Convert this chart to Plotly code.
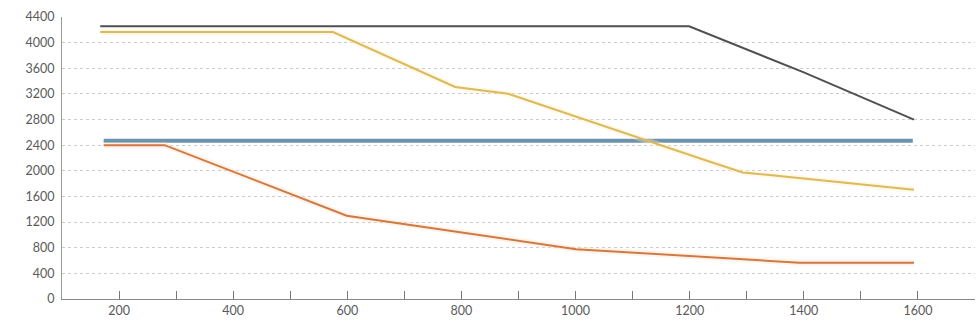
import plotly.graph_objects as go

# ---- data ----
dark_x = [167, 1199, 1400, 1593]
dark_y = [4255, 4255, 3535, 2800]

yellow_x = [167, 575, 789, 882, 1229, 1293, 1593]
yellow_y = [4165, 4165, 3308, 3203, 2160, 1975, 1705]

blue_x = [173, 1591]
blue_y = [2468, 2468]

orange_x = [173, 280, 599, 1001, 1392, 1593]
orange_y = [2400, 2400, 1300, 778, 567, 565]

x_tickvals = list(range(100, 1701, 100))
x_ticktext = [str(v) if v % 200 == 0 else "" for v in x_tickvals]
y_tickvals = list(range(0, 4401, 400))

fig = go.Figure()

def add_line(x, y, color, width, glow=None):
    if glow:
        fig.add_trace(go.Scatter(x=x, y=y, mode="lines",
                                 line=dict(color=glow, width=width + 4),
                                 hoverinfo="skip", showlegend=False))
    fig.add_trace(go.Scatter(x=x, y=y, mode="lines",
                             line=dict(color=color, width=width),
                             showlegend=False))

add_line(dark_x, dark_y, "#505050", 2)
add_line(blue_x, blue_y, "#6b93ab", 4)
add_line(yellow_x, yellow_y, "#dcb85e", 2, glow="rgba(255,240,190,0.35)")
add_line(orange_x, orange_y, "#cf7a46", 2, glow="rgba(255,220,190,0.35)")

fig.update_layout(
    width=978, height=321,
    margin=dict(l=62, r=3, t=17, b=22),
    paper_bgcolor="white", plot_bgcolor="white",
    font=dict(family="Lato, sans-serif", size=12.5, color="#5a5a5a"),
    xaxis=dict(range=[100, 1700], tickvals=x_tickvals, ticktext=x_ticktext,
               ticks="inside", ticklen=8, tickcolor="#777777", tickwidth=1,
               showgrid=False, zeroline=False,
               showline=True, linecolor="#888888", linewidth=1),
    yaxis=dict(range=[0, 4400], tickvals=y_tickvals,
               showgrid=True, gridcolor="#cccccc", griddash="dot", gridwidth=1,
               zeroline=False, showline=True, linecolor="#999999", linewidth=1,
               ticks="", ticklabelstandoff=4),
)

fig.write_html("out.html", config={"displayModeBar": False},
               post_script="document.body.style.margin='0';document.body.style.overflow='hidden';")
